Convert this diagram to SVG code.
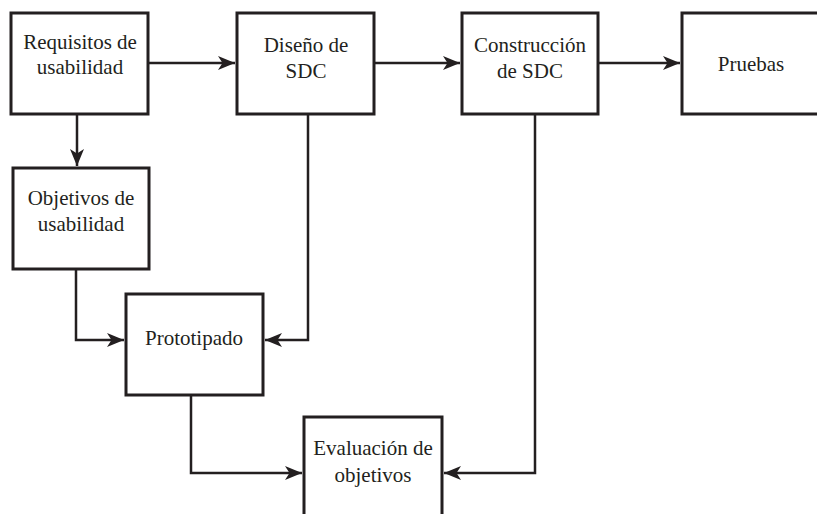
<svg xmlns="http://www.w3.org/2000/svg" width="817" height="514" viewBox="0 0 817 514">
<style>
.box{fill:#fff;stroke:#231f20;stroke-width:3}
.lbl{font-family:"Liberation Serif",serif;font-size:21px;fill:#231f20;text-anchor:middle}
.con{fill:none;stroke:#231f20;stroke-width:2.5}
</style>
<defs>
<marker id="ah" markerUnits="userSpaceOnUse" markerWidth="18" markerHeight="15" refX="17" refY="7" orient="auto">
<path d="M0,0 L17,7 L0,14 L4.5,7 Z" fill="#231f20"/>
</marker>
</defs>
<rect width="817" height="514" fill="#fff"/>
<g id="connectors">
<path class="con" d="M148,63 H235" marker-end="url(#ah)"/>
<path class="con" d="M374,63 H460" marker-end="url(#ah)"/>
<path class="con" d="M598,63 H680" marker-end="url(#ah)"/>
<path class="con" d="M77,114 V166" marker-end="url(#ah)"/>
<path class="con" d="M76,269 V340 H124" marker-end="url(#ah)"/>
<path class="con" d="M308,114 V340 H265" marker-end="url(#ah)"/>
<path class="con" d="M191,395 V473 H302" marker-end="url(#ah)"/>
<path class="con" d="M535,114 V473 H444" marker-end="url(#ah)"/>
</g>
<g id="n1"><rect class="box" x="11" y="13" width="137" height="101"/>
<text class="lbl" x="80" y="49">Requisitos de</text><text class="lbl" x="80" y="74">usabilidad</text></g>
<g id="n2"><rect class="box" x="237" y="13" width="137" height="101"/>
<text class="lbl" x="306" y="52">Diseño de</text><text class="lbl" x="306" y="78">SDC</text></g>
<g id="n3"><rect class="box" x="462" y="13" width="136" height="101"/>
<text class="lbl" x="530" y="52">Construcción</text><text class="lbl" x="530" y="78">de SDC</text></g>
<g id="n4"><rect class="box" x="682" y="13" width="140" height="101"/>
<text class="lbl" x="751" y="71">Pruebas</text></g>
<g id="n5"><rect class="box" x="13" y="168" width="136" height="101"/>
<text class="lbl" x="81" y="205">Objetivos de</text><text class="lbl" x="81" y="231">usabilidad</text></g>
<g id="n6"><rect class="box" x="126" y="294" width="137" height="101"/>
<text class="lbl" x="194" y="345">Prototipado</text></g>
<g id="n7"><rect class="box" x="304" y="417" width="138" height="105"/>
<text class="lbl" x="373" y="455">Evaluación de</text><text class="lbl" x="373" y="482">objetivos</text></g>
</svg>
